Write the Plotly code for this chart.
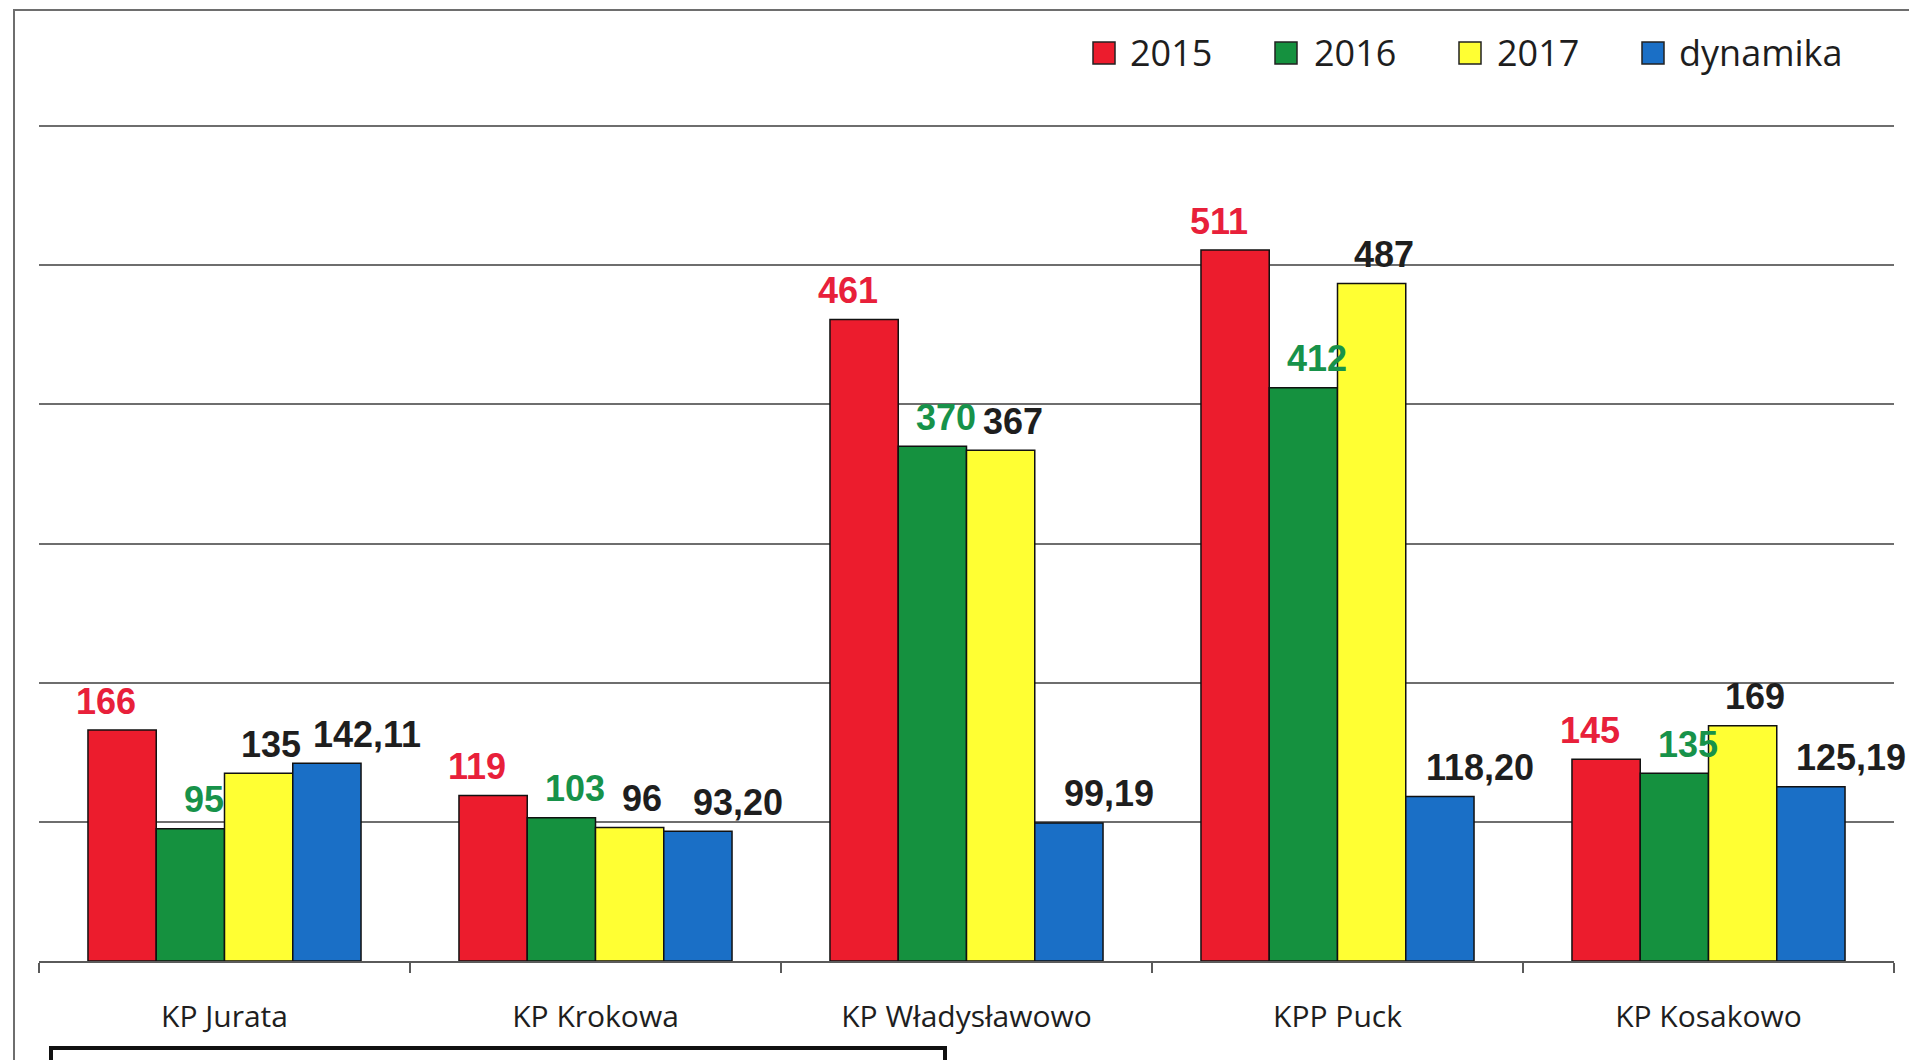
import plotly.graph_objects as go

# ---------------- data ----------------
categories = ["KP Jurata", "KP Krokowa", "KP Władysławowo", "KPP Puck", "KP Kosakowo"]
series_names = ["2015", "2016", "2017", "dynamika"]
values_2015 = [166, 119, 461, 511, 145]
values_2016 = [95, 103, 370, 412, 135]
values_2017 = [135, 96, 367, 487, 169]
values_dynamika = [142.11, 93.20, 99.19, 118.20, 125.19]
y_tick_values = [0, 100, 200, 300, 400, 500, 600]

series_values = [values_2015, values_2016, values_2017, values_dynamika]

# ---------------- layout geometry / style ----------------
W, H = 1909, 1060
L, R, T, B = 39, 15, 122, 99
PW, PH = W - L - R, H - T - B
BARGAP = 0.264
Y_MAX = 603


def px(x):
    return (x - L) / PW


def py(y):
    return (H - B - y) / PH


bar_colors = ["#EC1C2D", "#15913F", "#FFFF33", "#1A6FC6"]
label_colors = ["#E8203A", "#17924A", "#1E1E1E", "#1E1E1E"]
label_dx = [-16, 14, 12, 40]

fig = go.Figure()
for name, vals, col in zip(series_names, series_values, bar_colors):
    fig.add_trace(go.Bar(
        x=categories, y=vals, name=name,
        marker=dict(color=col, line=dict(color="#111111", width=1.5)),
        showlegend=False,
    ))

cat_px = PW / len(categories)
bar_px = cat_px * (1 - BARGAP) / len(series_names)


def fmt(name, v):
    if name == "dynamika":
        return f"{v:.2f}".replace(".", ",")
    return str(v)


for i, (name, vals) in enumerate(zip(series_names, series_values)):
    off = (i - (len(series_names) - 1) / 2) * bar_px
    for c, v in zip(categories, vals):
        fig.add_annotation(
            x=c, y=v, xref="x", yref="y", text=fmt(name, v), showarrow=False,
            xshift=off + label_dx[i], yshift=29, yanchor="middle", xanchor="center",
            font=dict(family="Liberation Sans, Arial", size=36, color=label_colors[i], weight="bold"),
        )

# custom legend (large square swatches)
legend_sq_x = [1093, 1275, 1459, 1642]
legend_txt_x = [1128, 1312, 1495, 1677]
for name, col, sx, tx in zip(series_names, bar_colors, legend_sq_x, legend_txt_x):
    fig.add_shape(type="rect", xref="paper", yref="paper",
                  x0=px(sx), x1=px(sx + 22), y0=py(64), y1=py(42),
                  fillcolor=col, line=dict(color="#222222", width=1.5))
    fig.add_annotation(x=px(tx), y=py(53), xref="paper", yref="paper", text=name,
                       showarrow=False, xanchor="left", yanchor="middle",
                       font=dict(family="Open Sans", size=36, color="#1E1E1E"))

# chart border (extends beyond the page, as in the scan)
fig.add_shape(type="rect", xref="paper", yref="paper",
              x0=px(14), x1=px(1960), y0=py(1120), y1=py(10),
              line=dict(color="#6E6E6E", width=2), fillcolor="rgba(0,0,0,0)", layer="below")
# partially visible box below the chart
fig.add_shape(type="rect", xref="paper", yref="paper",
              x0=px(51), x1=px(945), y0=py(1120), y1=py(1048),
              line=dict(color="#111111", width=4), fillcolor="rgba(0,0,0,0)")

fig.update_layout(
    width=W, height=H,
    margin=dict(l=L, r=R, t=T, b=B, pad=0),
    paper_bgcolor="white", plot_bgcolor="white",
    barmode="group", bargap=BARGAP, bargroupgap=0,
    showlegend=False,
    xaxis=dict(
        type="category", range=[-0.5, len(categories) - 0.5],
        showline=True, linecolor="#5A5A5A", linewidth=2,
        ticks="outside", tickson="boundaries", ticklen=10, tickwidth=2, tickcolor="#5A5A5A",
        tickfont=dict(family="Open Sans", size=30, color="#1E1E1E"),
        ticklabelstandoff=28, showgrid=False, zeroline=False,
    ),
    yaxis=dict(
        range=[0, Y_MAX], tickvals=y_tick_values, showticklabels=False,
        showgrid=True, gridcolor="#6E6E6E", gridwidth=2, zeroline=False, showline=False,
    ),
)

fig.write_html(
    "out.html",
    config={"displayModeBar": False},
    post_script="document.body.style.margin='0';document.body.style.overflow='hidden';",
)
